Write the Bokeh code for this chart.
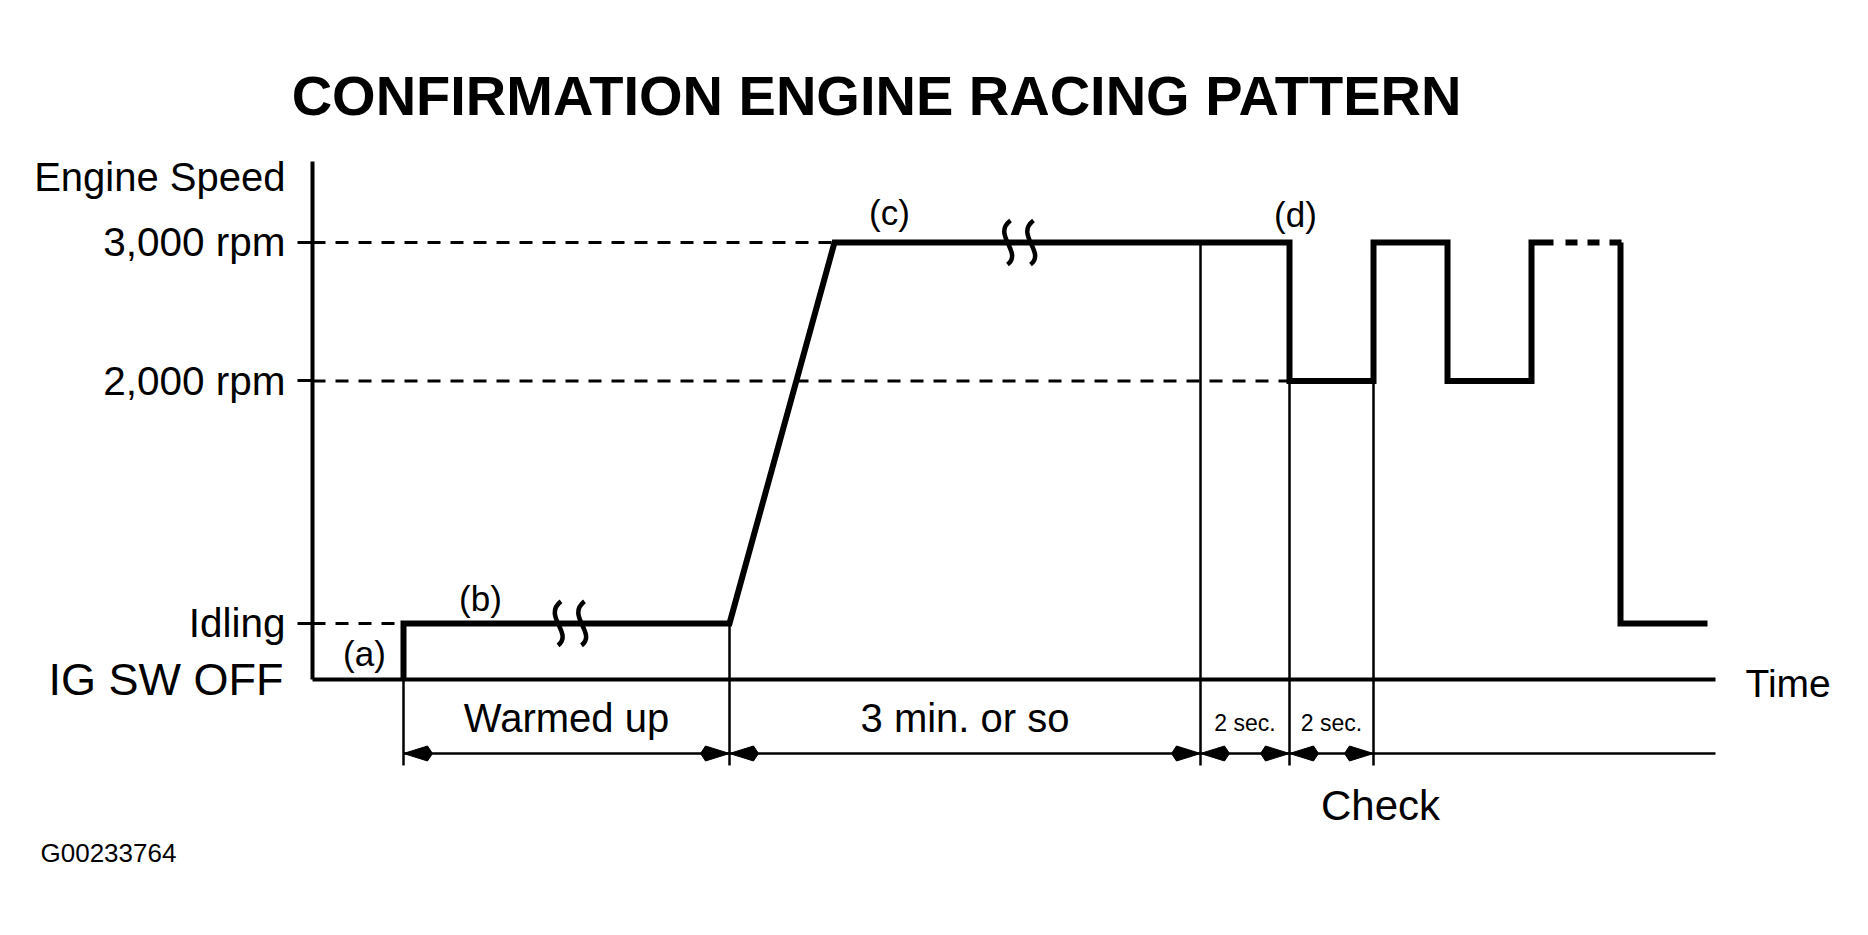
from bokeh.plotting import figure
from bokeh.models import Range1d, LinearAxis, FixedTicker
from bokeh.core.properties import value
from bokeh.embed import file_html
from bokeh.resources import INLINE

FONT = "Liberation Sans"

# ---------------- data (schematic time units / schematic speed scale) ----------------
speed_ticks = [385, 2050, 3000]
speed_tick_labels = ["Idling", "2,000 rpm", "3,000 rpm"]
off_tick = [0]
off_tick_label = ["IG SW OFF"]

# heavy engine-speed trace
trace_t = [9.1, 9.1, 41.7, 52.2, 97.7, 97.7, 106.1, 106.1, 113.5, 113.5, 121.9, 121.9, 124.1]
trace_s = [0, 385, 385, 3000, 3000, 2050, 2050, 3000, 3000, 2050, 2050, 3000, 3000]
dotted_t = [125.3, 130.9]
dotted_s = [3000, 3000]
tail_t = [130.8, 130.8, 139.5]
tail_s = [3000, 385, 385]

# dashed reference levels (from the speed axis to where the trace reaches them)
ref_level = [385, 2050, 3000]
ref_end_t = [9.1, 97.7, 52.2]

# phase boundaries and labels
boundary_t = [9.1, 41.7, 88.8, 97.7, 106.1]
boundary_top = [385, 385, 3000, 2050, 2050]
phase_labels = ["Warmed up", "3 min. or so", "2 sec.", "2 sec."]
phase_big = [True, True, False, False]

# break marks on the trace
break_t = [24.65, 27.0, 69.6, 71.9]
break_s = [385, 385, 3000, 3000]

# step labels
step_labels = ["(a)", "(b)", "(c)", "(d)"]
step_t = [5.2, 16.8, 57.7, 98.3]
step_s = [178, 556, 3206, 3192]

time_end = 140.3
speed_axis_top = 3556

# ---------------- layout constants ----------------
dim_s = -508          # dimension line level
boundary_bottom = -590
px_t = 0.1            # one screen px in time units
px_s = 6.865          # one screen px in speed units

p = figure(width=1852, height=919,
           x_range=Range1d(-31.2, 154.0), y_range=Range1d(-1647.6, 4661.3),
           x_axis_type=None, y_axis_type=None,
           toolbar_location=None, output_backend="svg",
           min_border=0, outline_line_color=None,
           background_fill_color="white", border_fill_color="white")

# speed axis with level ticks
yax = LinearAxis(fixed_location=0, bounds=(0, speed_axis_top),
                 ticker=FixedTicker(ticks=speed_ticks, minor_ticks=[]),
                 major_label_overrides=dict(zip(speed_ticks, speed_tick_labels)),
                 axis_line_width=4, axis_line_color="black",
                 major_tick_line_width=3, major_tick_line_color="black",
                 major_tick_out=15, major_tick_in=0,
                 minor_tick_out=0, minor_tick_in=0,
                 major_label_standoff=12,
                 major_label_text_font=FONT, major_label_text_font_size="40.5px",
                 major_label_text_color="black")
p.add_layout(yax, "left")

offax = LinearAxis(fixed_location=0,
                   ticker=FixedTicker(ticks=off_tick, minor_ticks=[]),
                   major_label_overrides=dict(zip(off_tick, off_tick_label)),
                   axis_line_color=None, major_tick_line_color=None,
                   major_tick_out=0, major_tick_in=0,
                   minor_tick_out=0, minor_tick_in=0,
                   major_label_standoff=29,
                   major_label_text_font=FONT, major_label_text_font_size="45px",
                   major_label_text_color="black")
p.add_layout(offax, "left")

# time axis (baseline)
xax = LinearAxis(fixed_location=0, bounds=(0, time_end),
                 ticker=FixedTicker(ticks=[], minor_ticks=[]),
                 axis_line_width=4, axis_line_color="black",
                 major_tick_out=0, major_tick_in=0,
                 minor_tick_out=0, minor_tick_in=0,
                 major_label_text_font_size="0px")
p.add_layout(xax, "below")

# dashed reference levels
p.segment(x0=[0] * len(ref_level), y0=ref_level, x1=ref_end_t, y1=ref_level,
          line_color="black", line_width=3, line_dash="13 10")

# phase boundary verticals
p.segment(x0=boundary_t, y0=boundary_top, x1=boundary_t,
          y1=[boundary_bottom] * len(boundary_t),
          line_color="black", line_width=2.5)

# dimension line
p.segment(x0=[boundary_t[0]], y0=[dim_s], x1=[time_end], y1=[dim_s],
          line_color="black", line_width=2.5)

# arrow heads pointing at the boundaries
head_mid = 24 * px_t
head_back = 29 * px_t
head_half = 7.5 * px_s
xs, ys = [], []
for a, b in zip(boundary_t[:-1], boundary_t[1:]):
    xs.append([a, a + head_mid, a + head_back, a + head_mid])
    ys.append([dim_s, dim_s + head_half, dim_s, dim_s - head_half])
    xs.append([b, b - head_mid, b - head_back, b - head_mid])
    ys.append([dim_s, dim_s + head_half, dim_s, dim_s - head_half])
p.patches(xs=xs, ys=ys, fill_color="black", line_color="black", line_width=1)

# heavy trace
p.line(trace_t, trace_s, line_color="black", line_width=6, line_join="miter")
p.line(dotted_t, dotted_s, line_color="black", line_width=6, line_dash="12 10")
p.line(tail_t, tail_s, line_color="black", line_width=6, line_join="miter")

# break marks
h = 22 * px_s
p.bezier(x0=[t + 2 * px_t for t in break_t], y0=[s + h for s in break_s],
         x1=[t - 1 * px_t for t in break_t], y1=[s - h for s in break_s],
         cx0=[t - 17 * px_t for t in break_t], cy0=[s + 0.35 * h for s in break_s],
         cx1=[t + 15 * px_t for t in break_t], cy1=[s - 0.45 * h for s in break_s],
         line_color="black", line_width=4.5)

# texts
def txt(x, y, t, size, align="center", baseline="middle", style="normal"):
    p.text(x=x, y=y, text=t, text_font=value(FONT), text_font_size=value(size),
           text_font_style=style, text_align=align, text_baseline=baseline,
           text_color="black")

txt([56.4], [4009], ["CONFIRMATION ENGINE RACING PATTERN"], "56px", style="bold")
txt([-2.7], [3453], ["Engine Speed"], "40px", align="right")
txt([143.3], [-27.5], ["Time"], "39px", align="left")

mid_t = [(a + b) / 2 for a, b in zip(boundary_t[:-1], boundary_t[1:])]
big_t = [m for m, big in zip(mid_t, phase_big) if big]
big_l = [l for l, big in zip(phase_labels, phase_big) if big]
small_t = [m for m, big in zip(mid_t, phase_big) if not big]
small_l = [l for l, big in zip(phase_labels, phase_big) if not big]
txt(big_t, [-261] * len(big_t), big_l, "40px")
txt(small_t, [-302] * len(small_t), small_l, "23px")
txt([106.8], [-865], ["Check"], "42px")
txt(step_t, step_s, step_labels, "35px")
txt([-27.2], [-1188], ["G00233764"], "26px", align="left")

open("out.html", "w").write(file_html(p, INLINE))
